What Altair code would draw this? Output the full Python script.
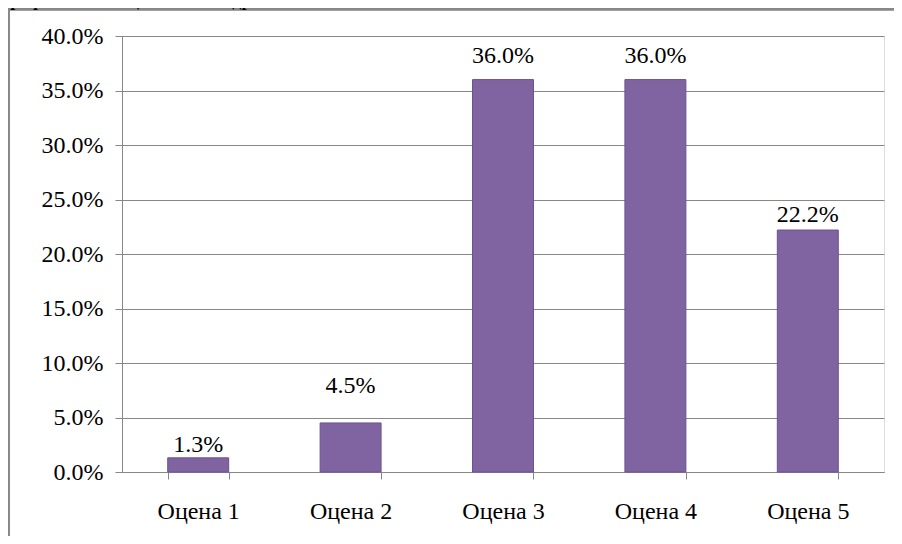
import altair as alt
import pandas as pd

categories = ["Оцена 1", "Оцена 2", "Оцена 3", "Оцена 4", "Оцена 5"]
shares = [0.013, 0.045, 0.360, 0.360, 0.222]
y_ticks = [0.0, 0.05, 0.10, 0.15, 0.20, 0.25, 0.30, 0.35, 0.40]
title_text = "Графикон 17: Оцена вашег здравственог стања"

# label lift above each bar (styling, in pixels)
label_dy = {"Оцена 1": -6, "Оцена 2": -30, "Оцена 3": -17, "Оцена 4": -17, "Оцена 5": -8}

df = pd.DataFrame({"cat": categories, "val": shares})

FONT = "Liberation Serif"
GRAY = "#878787"

x_enc = alt.X(
    "cat:N",
    sort=categories,
    scale=alt.Scale(paddingInner=0.6, paddingOuter=0.3),
    axis=alt.Axis(
        title=None, labelAngle=0, tickBand="extent", tickSize=7,
        labelPadding=20, domainColor=GRAY, tickColor=GRAY, labelFont=FONT,
        labelFontSize=24, labelColor="black", grid=False,
    ),
)
y_enc = alt.Y(
    "val:Q",
    scale=alt.Scale(domain=[0, 0.4], nice=False),
    axis=alt.Axis(
        title=None, values=y_ticks, format=".1%", tickSize=7, labelPadding=12,
        domainColor=GRAY, tickColor=GRAY, gridColor=GRAY, grid=True,
        labelFont=FONT, labelFontSize=24, labelColor="black",
    ),
)

base = alt.Chart(df)

bars = base.mark_bar(color="#8064A2", stroke="#6B528C", strokeWidth=1).encode(
    x=x_enc, y=y_enc
)

label_layers = []
for c in categories:
    label_layers.append(
        base.transform_filter(alt.datum.cat == c).mark_text(
            font=FONT, fontSize=24, color="black", baseline="alphabetic", dy=label_dy[c]
        ).encode(
            x=alt.X("cat:N", sort=categories),
            y="val:Q",
            text=alt.Text("val:Q", format=".1%"),
        )
    )

frame_top = base.mark_rule(color=GRAY, strokeWidth=2).encode(
    x=alt.value(-114), x2=alt.value(800), y=alt.value(-26.7)
)
frame_left = base.mark_rule(color=GRAY, strokeWidth=2).encode(
    x=alt.value(-113.5), y=alt.value(-27.5), y2=alt.value(700)
)
title = alt.Chart(pd.DataFrame({"t": [title_text]})).mark_text(
    font=FONT, fontSize=18, fontWeight="bold", align="left", baseline="alphabetic", color="black"
).encode(x=alt.value(-122), y=alt.value(-30), text="t:N")

chart = alt.layer(frame_top, frame_left, bars, *label_layers, title).properties(
    width=762, height=436,
    autosize=alt.AutoSizeParams(type="none"),
    padding={"left": 114, "top": 28, "right": 10, "bottom": 64},
).configure_view(fill="#ECEAF0", stroke=None).configure(
    background="white", font=FONT
).configure_axis(labelFont=FONT).configure_text(font=FONT)

chart.save("out.html", embed_options={"renderer": "svg", "actions": False})
